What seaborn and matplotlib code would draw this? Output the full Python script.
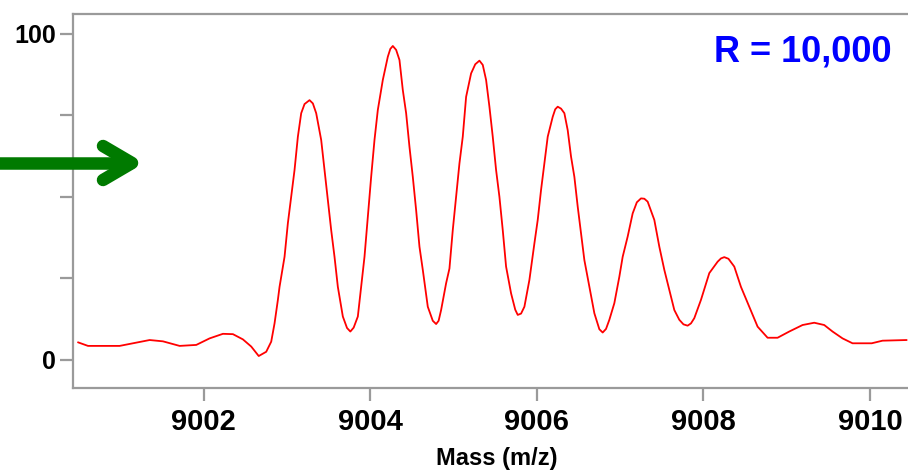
import matplotlib

matplotlib.use("Agg", force=True)
import matplotlib.pyplot as plt
import seaborn as sns
from matplotlib.lines import Line2D

# profile (m/z, relative intensity %)
MASS = [
    9000.49, 9000.61, 9000.99, 9001.19, 9001.35, 9001.51, 9001.71, 9001.91,
    9002.07, 9002.23, 9002.35, 9002.47, 9002.57, 9002.66, 9002.75, 9002.81,
    9002.85, 9002.89, 9002.91, 9002.97, 9003.01, 9003.05, 9003.09, 9003.13,
    9003.17, 9003.21, 9003.27, 9003.31, 9003.35, 9003.41, 9003.45, 9003.49,
    9003.53, 9003.57, 9003.61, 9003.67, 9003.72, 9003.76, 9003.80, 9003.85,
    9003.89, 9003.93, 9003.97, 9004.01, 9004.05, 9004.09, 9004.15, 9004.21,
    9004.24, 9004.27, 9004.31, 9004.35, 9004.39, 9004.43, 9004.47, 9004.51,
    9004.55, 9004.59, 9004.63, 9004.69, 9004.75, 9004.79, 9004.82, 9004.85,
    9004.91, 9004.95, 9004.99, 9005.03, 9005.07, 9005.11, 9005.15, 9005.21,
    9005.26, 9005.31, 9005.35, 9005.39, 9005.43, 9005.47, 9005.51, 9005.55,
    9005.59, 9005.63, 9005.69, 9005.74, 9005.77, 9005.81, 9005.85, 9005.91,
    9005.97, 9006.01, 9006.05, 9006.09, 9006.13, 9006.19, 9006.22, 9006.25,
    9006.29, 9006.33, 9006.37, 9006.41, 9006.45, 9006.49, 9006.53, 9006.57,
    9006.63, 9006.69, 9006.75, 9006.79, 9006.83, 9006.87, 9006.93, 9006.99,
    9007.03, 9007.09, 9007.15, 9007.20, 9007.25, 9007.29, 9007.33, 9007.41,
    9007.47, 9007.53, 9007.59, 9007.65, 9007.71, 9007.76, 9007.81, 9007.85,
    9007.89, 9007.97, 9008.07, 9008.17, 9008.21, 9008.25, 9008.30, 9008.37,
    9008.45, 9008.55, 9008.65, 9008.77, 9008.89, 9009.03, 9009.19, 9009.33,
    9009.45, 9009.55, 9009.67, 9009.79, 9010.02, 9010.15, 9010.44,
]
INTENSITY = [
    5.4, 4.3, 4.3, 5.3, 6.1, 5.7, 4.3, 4.6,
    6.6, 8.0, 7.9, 6.3, 4.1, 1.2, 2.5, 5.6,
    11.2, 18.4, 22.4, 31.6, 41.9, 50.0, 58.2, 68.4,
    75.6, 78.4, 79.6, 78.6, 75.6, 67.4, 58.2, 49.0,
    39.8, 31.6, 22.4, 13.3, 9.8, 8.7, 9.9, 13.3,
    22.4, 31.6, 43.9, 56.1, 67.4, 76.6, 85.8, 92.9,
    95.3, 96.2, 95.0, 91.9, 82.7, 75.6, 65.3, 56.1,
    45.9, 34.7, 27.6, 16.3, 12.0, 11.0, 12.0, 15.3,
    23.5, 28.0, 39.8, 50.0, 60.2, 68.4, 80.6, 87.8,
    90.6, 91.7, 90.4, 85.8, 77.6, 68.4, 58.2, 50.0,
    39.8, 28.6, 20.4, 15.4, 13.8, 14.2, 16.3, 24.5,
    35.7, 42.9, 52.1, 60.2, 68.4, 74.5, 76.8, 77.6,
    77.0, 75.6, 70.4, 62.3, 56.1, 47.0, 38.8, 30.6,
    22.4, 14.3, 9.4, 8.4, 9.5, 12.3, 17.4, 25.5,
    31.6, 37.8, 44.9, 48.3, 49.5, 49.4, 48.5, 42.9,
    34.7, 27.6, 21.4, 15.3, 12.3, 10.9, 10.5, 11.2,
    12.8, 18.4, 26.6, 30.1, 31.1, 31.5, 31.0, 28.6,
    22.4, 16.3, 10.2, 6.8, 6.8, 8.7, 10.7, 11.4,
    10.7, 8.7, 6.6, 5.1, 5.1, 5.9, 6.1,
]

X_TICKS = [9002, 9004, 9006, 9008, 9010]
Y_TICKS = [0, 25, 50, 75, 100]
Y_TICK_LABELS = ["0", "", "", "", "100"]
RESOLUTION_LABEL = "R = 10,000"

W, H = 908, 472


def main() -> None:
    sns.set_theme(style="white")
    plt.rcParams["font.family"] = ["Liberation Sans", "DejaVu Sans"]
    plt.rcParams["font.weight"] = "bold"

    fig = plt.figure(figsize=(W / 100, H / 100), dpi=100)
    fig.patch.set_facecolor("white")
    # right spine falls off the canvas like in the reference
    ax = fig.add_axes([73 / W, (H - 388) / H, 847 / W, 374 / H])
    ax.set_facecolor("white")

    sns.lineplot(x=MASS, y=INTENSITY, color="#ff0000", linewidth=1.3, ax=ax)

    ax.set_xlim(9000.43, 9010.60)
    ax.set_ylim(-8.6, 106.0)
    ax.set_xticks(X_TICKS)
    ax.set_xticklabels([str(t) for t in X_TICKS], fontsize=21, fontweight="bold")
    ax.set_yticks(Y_TICKS)
    ax.set_yticklabels(Y_TICK_LABELS, fontsize=18, fontweight="bold")
    ax.tick_params(axis="both", direction="out", bottom=True, left=True,
                   length=9.5, width=1.6, color="#9a9a9a", labelcolor="black")
    ax.tick_params(axis="x", pad=5)
    ax.tick_params(axis="y", pad=3)
    for spine in ax.spines.values():
        spine.set_color("#9a9a9a")
        spine.set_linewidth(1.6)
    ax.set_xlabel("Mass (m/z)", fontsize=17, fontweight="bold", color="black", labelpad=8)
    ax.set_ylabel("")
    ax.grid(False)

    fig.text(892 / W, (H - 52) / H, RESOLUTION_LABEL, color="#0000ff", fontsize=26,
             fontweight="bold", ha="right", va="center")

    # green arrow pointing at the axis
    ay = (H - 163) / H
    shaft = Line2D([-5 / W, 130 / W], [ay, ay], color="#007a00", linewidth=9,
                   solid_capstyle="round", transform=fig.transFigure)
    head = Line2D([103 / W, 132 / W, 103 / W], [(H - 146) / H, ay, (H - 180) / H],
                  color="#007a00", linewidth=9, solid_capstyle="round",
                  solid_joinstyle="round", transform=fig.transFigure)
    fig.add_artist(shaft)
    fig.add_artist(head)

    fig.savefig("out.png", dpi=100)
    plt.close(fig)


if __name__ == "__main__":
    main()
